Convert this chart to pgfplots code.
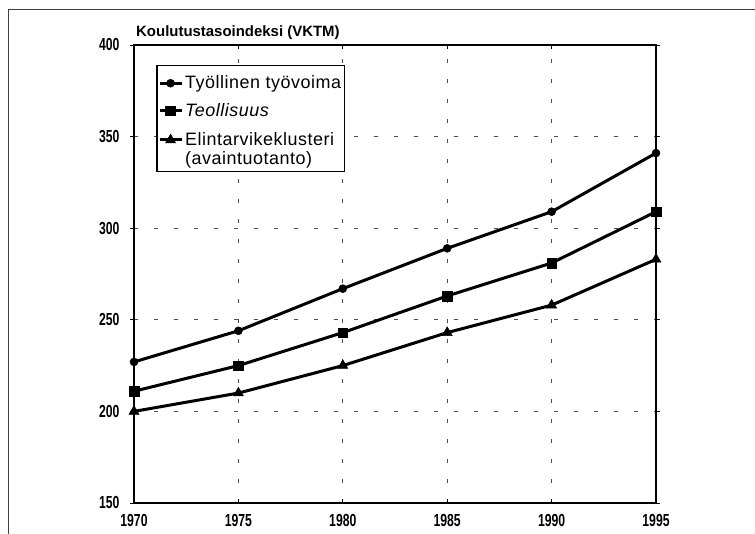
\documentclass[border=0pt]{standalone}
\usepackage{pgfplots}
\pgfplotsset{compat=1.18}
\usepackage{fontspec}
\setmainfont{Liberation Sans}
\newfontfamily\condfont[FakeStretch=0.7]{Liberation Sans Bold}
\newfontfamily\legfont[LetterSpace=3]{Liberation Sans}

\begin{document}
\begin{tikzpicture}[x=1bp,y=1bp]
\path[use as bounding box] (0,0) rectangle (755,534);
\draw[line width=1bp, black!75] (8,0) -- (8,524) -- (755,524);
\node[anchor=base west, inner sep=0pt, font=\bfseries\fontsize{15}{18}\selectfont] at (136,497) {Koulutustasoindeksi (VKTM)};
\begin{axis}[
  at={(134bp,31bp)}, anchor=south west,
  width=522bp, height=458bp, scale only axis,
  xmin=1970, xmax=1995, ymin=150, ymax=400,
  xtick={1970,1975,1980,1985,1990,1995},
  xticklabels={1970,1975,1980,1985,1990,1995},
  ytick={150,200,250,300,350,400},
  clip=false,
  axis line style={line width=1.6bp, black},
  grid=major,
  grid style={dash pattern=on 4bp off 16bp, line width=0.8bp, black!70},
  major tick length=4bp,
  tick style={line width=0.8bp, black},
  xtick align=inside, ytick align=outside,
  /pgf/number format/assume math mode=true,
  ticklabel style={font=\condfont\fontsize{17.5}{20}\selectfont},
  yticklabel style={xshift=-7bp},
  xticklabel style={yshift=-8bp},
  legend style={at={(0.043,0.956)}, anchor=north west, draw=black, line width=1.2bp,
    font=\legfont\fontsize{18}{17}\selectfont, inner xsep=1bp, inner ysep=1bp, row sep=7bp,
    nodes={text depth=}, cells={anchor=base west}},
  legend image code/.code={\draw[mark repeat=2,mark phase=2] plot coordinates {(0bp,5.5bp) (11bp,5.5bp) (22bp,5.5bp)};},
  every axis plot/.append style={line width=3bp, black, mark options={solid, line width=0.5bp, fill=black}},
]
\addplot[mark=*, mark size=4bp] coordinates {(1970,227) (1975,244) (1980,267) (1985,289) (1990,309) (1995,341)};
\addlegendentry{\rule{0pt}{20bp}Työllinen työvoima}
\addplot[mark=square*, mark size=4.8bp] coordinates {(1970,211) (1975,225) (1980,243) (1985,263) (1990,281) (1995,309)};
\addlegendentry{\textit{Teollisuus}\strut}
\addplot[mark=triangle*, mark size=5.8bp] coordinates {(1970,200) (1975,210) (1980,225) (1985,243) (1990,258) (1995,283)};
\addlegendentry{\vtop{\hbox{\strut Elintarvikeklusteri}\hbox{(avaintuotanto)}}}
\end{axis}
\end{tikzpicture}
\end{document}
